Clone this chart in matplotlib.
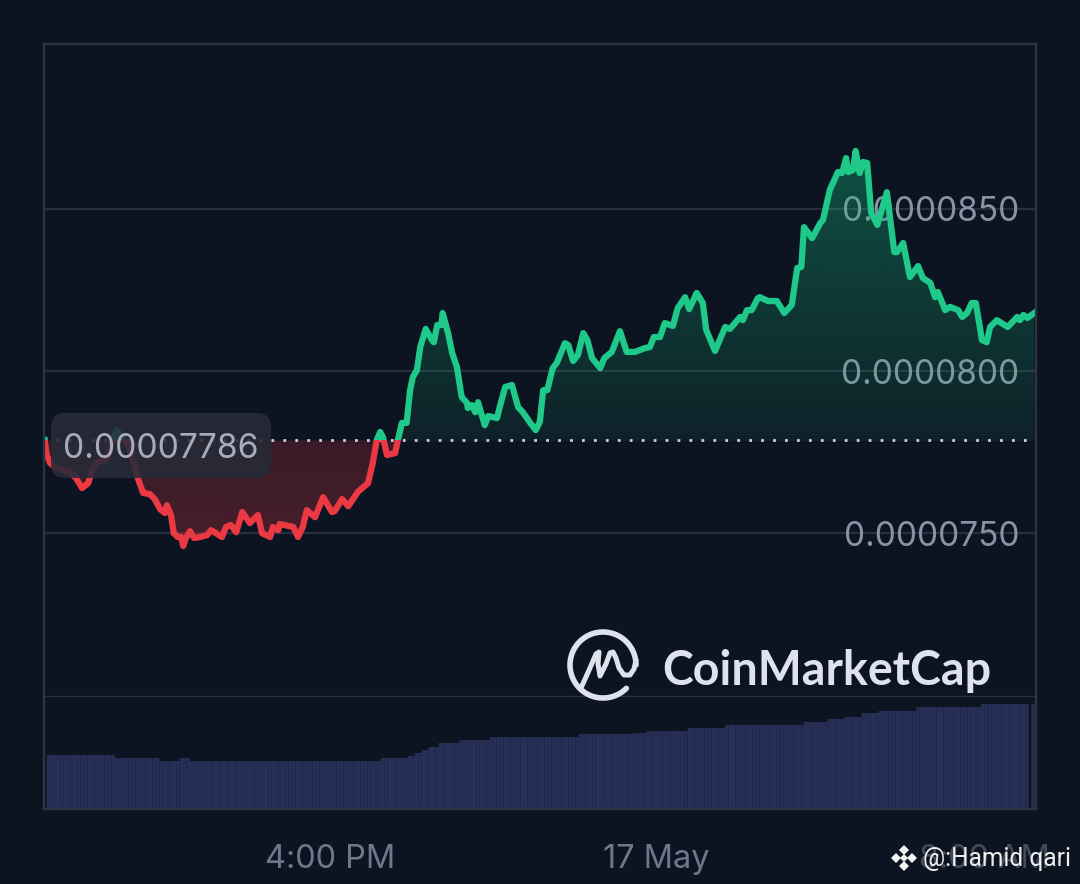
import numpy as np
import matplotlib
matplotlib.use("Agg")
import matplotlib.pyplot as plt
from matplotlib.patches import FancyBboxPatch, PathPatch, Rectangle
from matplotlib.path import Path

plt.rcParams['font.family'] = ['Inter', 'DejaVu Sans']

# minutes since the left edge of the chart
minutes = [1, 4, 9, 16, 27, 38, 47, 56, 65, 71, 78, 87, 94, 102, 107, 116, 124, 131, 138, 146,
           156, 163, 171, 178, 181, 187, 191, 197, 202, 205, 209, 215, 221, 230, 240, 246, 255, 262, 268, 275,
           283, 292, 303, 315, 321, 333, 337, 345, 347, 367, 374, 381, 387, 399, 411, 424, 428, 439, 448, 462,
           477, 484, 490, 495, 499, 505, 517, 521, 527, 534, 539, 543, 549, 554, 562, 571, 574, 579, 585, 587,
           595, 601, 608, 615, 623, 624, 630, 635, 639, 649, 654, 667, 671, 679, 689, 698, 705, 716, 724, 730,
           735, 741, 749, 755, 767, 772, 779, 786, 794, 800, 807, 819, 825, 836, 848, 858, 870, 885, 892, 898,
           907, 914, 926, 933, 944, 950, 961, 970, 975, 988, 1003, 1010, 1025, 1029, 1035, 1042, 1051, 1054, 1066, 1079,
           1090, 1101, 1109, 1115, 1119, 1131, 1143, 1147, 1157, 1169, 1175, 1181, 1184, 1191, 1195, 1201, 1206, 1212, 1218, 1227,
           1241, 1252, 1256, 1265, 1275, 1287, 1294, 1305, 1312, 1316, 1327, 1334, 1346, 1352, 1359, 1366, 1372, 1381, 1388, 1393,
           1403, 1419, 1433, 1437, 1442, 1448, 1458]

# price in units of 1e-7
price_e7 = [778.7, 774.1, 771.6, 770.4, 769.4, 768.8, 767.0, 763.9, 765.4, 769.4, 771.9, 772.2, 773.5, 778.7, 781.8, 779.3, 777.2, 772.5, 767.0, 762.4,
            762.0, 760.5, 757.4, 756.2, 758.6, 755.6, 750.0, 748.8, 748.8, 746.0, 748.5, 750.6, 748.5, 748.8, 749.4, 750.9, 749.7, 748.8, 751.9, 752.5,
            750.3, 756.5, 753.1, 755.6, 750.0, 748.8, 751.9, 750.9, 752.8, 751.9, 748.8, 751.9, 757.1, 754.9, 761.1, 756.5, 756.8, 760.5, 758.3, 762.7,
            765.4, 771.6, 778.7, 781.2, 779.6, 774.1, 774.7, 778.7, 784.0, 784.0, 794.1, 798.1, 800.3, 807.4, 813.0, 809.6, 808.9, 814.2, 814.2, 817.9,
            811.7, 805.6, 801.2, 792.0, 790.1, 788.6, 789.5, 787.3, 790.4, 783.3, 786.1, 785.5, 788.9, 795.1, 795.7, 788.9, 787.3, 784.0, 781.8, 784.3,
            794.1, 794.1, 800.9, 802.5, 808.6, 808.0, 803.1, 804.9, 811.7, 809.6, 804.0, 800.9, 804.0, 805.9, 812.3, 805.9, 805.9, 807.1, 807.4, 810.5,
            810.5, 814.8, 813.9, 819.4, 822.8, 819.1, 824.1, 821.0, 812.7, 806.2, 813.6, 813.0, 816.7, 815.7, 818.8, 818.8, 822.5, 822.8, 821.6, 821.6,
            817.9, 820.4, 831.8, 832.1, 844.4, 841.0, 845.7, 846.6, 855.9, 861.4, 861.1, 865.7, 861.4, 862.0, 867.9, 861.1, 864.5, 864.2, 848.8, 845.1,
            855.2, 836.7, 836.7, 839.5, 829.0, 832.4, 828.7, 827.2, 822.8, 824.4, 818.8, 819.8, 818.8, 816.7, 817.9, 821.0, 821.0, 809.6, 808.9, 813.6,
            815.7, 813.6, 816.7, 815.7, 817.3, 816.4, 817.9]

base_price = 0.00007786

# one volume bar per 5 minutes, relative height only (no scale on the chart)
volume = ([54] * 20 + [51] * 13 + [48] * 6 + [51] * 3 + [48] * 56 + [51] * 8 + [53] * 2 + [56] * 2 + [59] * 2
          + [62] * 3 + [66] * 6 + [69] * 9 + [72] * 26 + [75] * 16 + [76] * 4 + [78] * 12 + [81] * 11
          + [84] * 23 + [87] * 7 + [90] * 5 + [92] * 5 + [96] * 5 + [98] * 11 + [102] * 19 + [105] * 14)

price_ticks = [0.000075, 0.00008, 0.000085]
price_labels = ['0.0000750', '0.0000800', '0.0000850']
time_ticks = [422, 902, 1385]
time_labels = ['4:00 PM', '17 May', '8:00 AM']

bg = '#0d1421'
frame = '#2c3442'
grid = '#282f3c'
green = '#1fc98a'
red = '#ea3943'

W, H = 1080, 884
fig = plt.figure(figsize=(W / 100, H / 100), dpi=100, facecolor=bg)
ax = fig.add_axes([44 / W, (H - 696.5) / H, 992 / W, 652.5 / H], facecolor=bg)
ax_vol = fig.add_axes([44 / W, (H - 809) / H, 992 / W, 112.5 / H], facecolor=bg)

t = np.array(minutes, dtype=float)
p = np.array(price_e7) * 1e-7
xlim = (0, 1460.6)
ylim = (699.6e-7, 900.9e-7)

# gradient fills, clipped to the area between the line and the open price
area = np.column_stack([np.r_[t[0], t, t[-1]], np.r_[base_price, p, base_price]])
area_path = Path(np.vstack([area, area[0]]), closed=True)


def gradient(rgb, a_bottom, a_top, y0, y1):
    n = 64
    img = np.zeros((n, 1, 4))
    img[..., :3] = matplotlib.colors.to_rgb(rgb)
    img[:, 0, 3] = np.linspace(a_bottom, a_top, n)
    im = ax.imshow(img, extent=[xlim[0], xlim[1], y0, y1], origin='lower', aspect='auto',
                   interpolation='bilinear', zorder=1)
    im.set_clip_path(PathPatch(area_path, transform=ax.transData))


gradient('#16c784', 0.08, 0.34, base_price, p.max())
gradient(red, 0.27, 0.20, p.min(), base_price)

ax.plot(xlim, [base_price, base_price], color='#c9d0dc', lw=2, linestyle=(0, (1, 3.3)), zorder=1.5)

# line changes colour at the open price
for colour, y0, y1 in [(green, base_price, ylim[1]), (red, ylim[0], base_price)]:
    line, = ax.plot(t, p, color=colour, lw=4.5, solid_joinstyle='round', zorder=2)
    line.set_clip_path(Rectangle((xlim[0], y0), xlim[1] - xlim[0], y1 - y0, transform=ax.transData))

ax.set_xlim(xlim)
ax.set_ylim(ylim)
ax.set_axisbelow(True)
ax.set_xticks([])
ax.set_yticks(price_ticks)
ax.set_yticklabels(price_labels, fontsize=24, color='#8b92a6', ha='right')
ax.yaxis.tick_right()
ax.tick_params(axis='y', length=0, pad=-12)
ax.grid(axis='y', color=grid, lw=1.6)

# volume panel
bar_x = list(4 + 5.02 * np.arange(len(volume)) + 2.5) + [1456]
bar_h = volume + [105]
bars = ax_vol.bar(bar_x, bar_h, width=5.02, color='#272f56', linewidth=0)
for b in bars:
    b.set_snap(False)
ax_vol.set_xlim(xlim)
ax_vol.set_ylim(0, 112.5)
ax_vol.set_yticks([])
ax_vol.set_xticks(time_ticks)
ax_vol.set_xticklabels(time_labels, fontsize=23.4, color='#6e778c')
ax_vol.get_xticklabels()[2].set_color('#434b5a')
ax_vol.tick_params(axis='x', length=0, pad=25.5)

for a in (ax, ax_vol):
    for s in a.spines.values():
        s.set_color(frame)
        s.set_linewidth(1.7)
ax_vol.spines['top'].set_visible(False)

# overlay in pixel coordinates for tooltip, logo and watermark
ov = fig.add_axes([0, 0, 1, 1], facecolor='none')
ov.set_xlim(0, W)
ov.set_ylim(H, 0)
ov.axis('off')

ov.add_patch(FancyBboxPatch((61, 423), 200, 45, boxstyle='round,pad=10,rounding_size=14',
                            facecolor='#272b37', edgecolor='none', alpha=0.88))
ov.text(160.5, 449, '0.00007786', fontsize=24.2, color='#a7abbd', ha='center', va='center')

logo_col = '#dde2ec'
ang = np.radians(np.linspace(45, 360, 120))
ov.plot(603 + 33 * np.cos(ang), 665 + 33 * np.sin(ang), color=logo_col, lw=4, solid_capstyle='round')
ov.plot([581, 590, 596, 599, 598, 600, 606, 610, 613, 616, 619, 624, 630, 634, 636],
        [688, 668, 654, 652, 664, 676, 664, 653, 652, 658, 668, 675, 675, 669, 660],
        color=logo_col, lw=3.6, solid_capstyle='round', solid_joinstyle='round')
ov.text(662, 671, 'CoinMarketCap', fontsize=33.6, fontfamily='Lato', fontweight='bold', color=logo_col,
        ha='left', va='center')

# watermark
for dx, dy in [(0, -8), (0, 8), (-8, 0), (8, 0)]:
    ov.plot(904 + dx, 858 + dy, marker='D', ms=5, color='#f2f2f2', mew=0)
ov.plot(904, 858, marker='D', ms=4, color='#f2f2f2', mew=0)
ov.text(923, 859, '@:Hamid qari', fontsize=17.7, fontfamily='Roboto', color='#eeeeee', ha='left', va='center')

fig.savefig('out.png', dpi=100, facecolor=bg)
